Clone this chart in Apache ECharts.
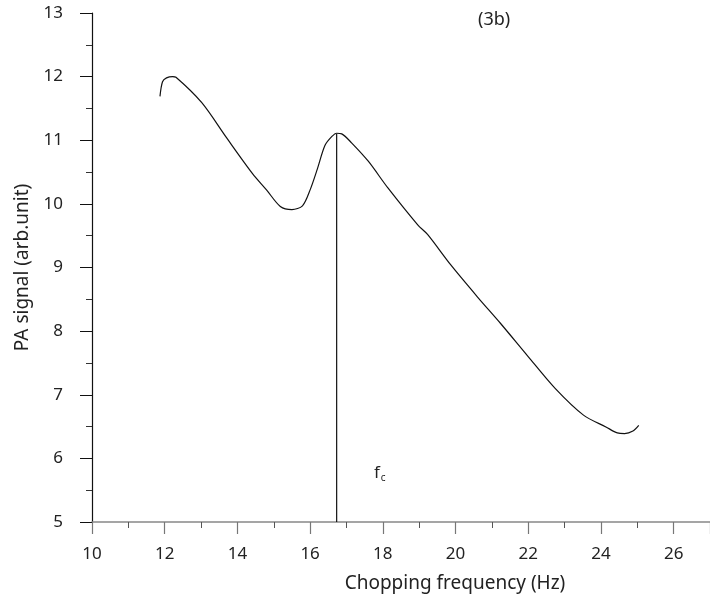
<!DOCTYPE html>
<html>
<head>
<meta charset="utf-8">
<script src="https://cdn.jsdelivr.net/npm/echarts@6/dist/echarts.min.js"></script>
<style>
  html, body { margin: 0; padding: 0; background: #fff; }
  #main { width: 710px; height: 605px; }
</style>
</head>
<body>
<div id="main"></div>
<script>
// chopping frequency (Hz) and PA signal (arb.unit)
var freq = [11.87, 11.94, 12.05, 12.22, 12.31, 13.02, 13.7, 14.41, 14.8, 15.18, 15.5, 15.79, 16.0, 16.2, 16.41, 16.6, 16.73, 16.87, 17.14, 17.6, 18.14, 18.96, 19.23, 19.87, 20.6, 21.24, 21.97, 22.74, 23.52, 24.15, 24.45, 24.65, 24.88, 25.04];
var signal = [11.69, 11.92, 11.98, 12.0, 11.99, 11.59, 11.04, 10.48, 10.22, 9.96, 9.91, 9.97, 10.22, 10.55, 10.92, 11.06, 11.11, 11.1, 10.96, 10.67, 10.25, 9.67, 9.52, 9.04, 8.54, 8.12, 7.62, 7.1, 6.68, 6.49, 6.4, 6.39, 6.43, 6.52];

// marker line at the characteristic frequency fc
var fcFreq = 16.73;
var fcRange = [5, 11.1];

var chart = echarts.init(document.getElementById('main'));
var font = 'Noto Sans';

chart.setOption({
    animation: false,
    backgroundColor: '#fff',
    textStyle: {fontFamily: font},
    grid: {left: 92, right: -4, top: 13, bottom: 83},
    xAxis: {
        type: 'value',
        min: 10,
        max: 27,
        interval: 2,
        name: 'Chopping frequency (Hz)',
        nameLocation: 'middle',
        nameGap: 52,
        nameTextStyle: {fontSize: 19, color: '#222', padding: [0, 0, 0, 108]},
        axisLine: {onZero: false, lineStyle: {color: '#888', width: 1.5}},
        axisTick: {inside: false, length: 12, lineStyle: {color: '#777', width: 1.2}},
        minorTick: {show: true, splitNumber: 2, length: 6, lineStyle: {color: '#555'}},
        axisLabel: {fontSize: 17, color: '#222', margin: 24, showMaxLabel: false},
        splitLine: {show: false}
    },
    yAxis: {
        type: 'value',
        min: 5,
        max: 13,
        interval: 1,
        name: 'PA signal (arb.unit)',
        nameLocation: 'middle',
        nameGap: 60,
        nameTextStyle: {fontSize: 19, color: '#222'},
        axisLine: {onZero: false, lineStyle: {color: '#111', width: 1.2}},
        axisTick: {inside: false, length: 12, lineStyle: {color: '#111'}},
        minorTick: {show: true, splitNumber: 2, length: 6, lineStyle: {color: '#333'}},
        axisLabel: {fontSize: 17, color: '#222', margin: 29},
        splitLine: {show: false}
    },
    series: [
        {
            type: 'line',
            data: freq.map(function (f, i) { return [f, signal[i]]; }),
            smooth: 0.3,
            showSymbol: false,
            lineStyle: {color: '#111', width: 1.2}
        },
        {
            type: 'line',
            data: fcRange.map(function (v) { return [fcFreq, v]; }),
            showSymbol: false,
            lineStyle: {color: '#111', width: 1.2}
        }
    ],
    graphic: [
        {
            type: 'text',
            left: 478,
            top: 11,
            style: {text: '(3b)', fontSize: 18, fontFamily: font, fill: '#222'}
        },
        {
            type: 'text',
            left: 374,
            top: 465,
            style: {
                text: '{f|f}{c|c}',
                fontFamily: font,
                fill: '#222',
                rich: {
                    f: {fontSize: 17, fontFamily: font, fill: '#222'},
                    c: {fontSize: 10, fontFamily: font, fill: '#222', padding: [9, 0, 0, 1]}
                }
            }
        }
    ]
});
</script>
</body>
</html>
